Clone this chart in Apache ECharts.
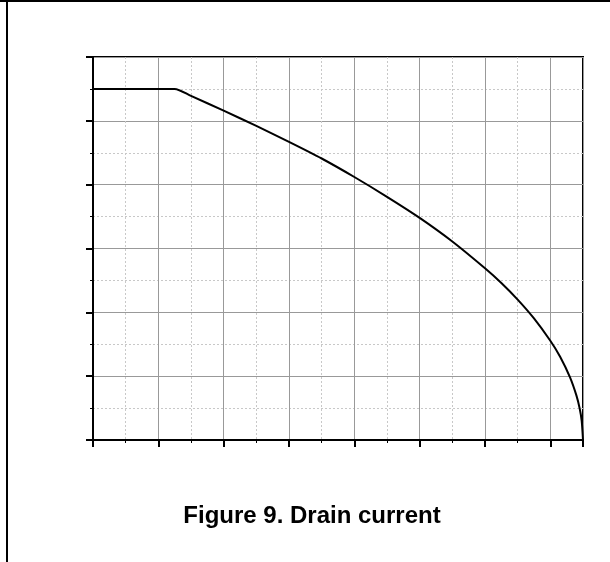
<!DOCTYPE html>
<html>
<head>
<meta charset="utf-8">
<script src="https://cdn.jsdelivr.net/npm/echarts@6/dist/echarts.min.js"></script>
<style>html,body{margin:0;padding:0;background:#fff;}#c{width:610px;height:562px;}</style>
</head>
<body>
<div id="c"></div>
<script>
// Case temperature (°C) vs drain current (A)
const temperature = [0, 25, 30, 40, 50, 60, 70, 80, 90, 100, 110, 120, 125, 130, 135, 140, 143, 146, 148, 149, 149.6, 150];
const drainCurrent = [11, 11, 10.78, 10.32, 9.84, 9.34, 8.82, 8.24, 7.62, 6.96, 6.22, 5.38, 4.92, 4.40, 3.81, 3.11, 2.61, 1.97, 1.39, 0.98, 0.6, 0];
const titleText = 'Figure 9. Drain current';

const chart = echarts.init(document.getElementById('c'), null, {renderer: 'canvas'});
const pts = temperature.map((t, i) => [t, drainCurrent[i]]);

chart.setOption({
  animation: false,
  backgroundColor: '#fff',
  title: {
    text: titleText,
    left: 307, top: 499, textAlign: 'center',
    textStyle: {fontFamily: 'Liberation Sans, Arial, sans-serif', fontWeight: 'bold', fontSize: 24, color: '#000'}
  },
  grid: {left: 93, right: 27, top: 57, bottom: 122, show: true, borderColor: '#000', borderWidth: 2, backgroundColor: 'transparent'},
  xAxis: {
    type: 'value', min: 0, max: 150, interval: 20,
    axisLabel: {show: false},
    axisLine: {show: true, lineStyle: {color: '#000', width: 2}},
    axisTick: {show: true, length: 7, lineStyle: {color: '#000', width: 2}},
    minorTick: {show: true, splitNumber: 2, length: 3, lineStyle: {color: '#000', width: 1}},
    splitLine: {show: true, lineStyle: {color: '#999', width: 1}},
    minorSplitLine: {show: true, lineStyle: {color: '#c8c8c8', width: 1, type: [2, 2]}}
  },
  yAxis: {
    type: 'value', min: 0, max: 12, interval: 2,
    axisLabel: {show: false},
    axisLine: {show: true, lineStyle: {color: '#000', width: 2}},
    axisTick: {show: true, length: 7, lineStyle: {color: '#000', width: 2}},
    minorTick: {show: true, splitNumber: 2, length: 3, lineStyle: {color: '#000', width: 1}},
    splitLine: {show: true, lineStyle: {color: '#999', width: 1}},
    minorSplitLine: {show: true, lineStyle: {color: '#c8c8c8', width: 1, type: [2, 2]}}
  },
  series: [{
    type: 'line', data: pts, smooth: 0.25, symbol: 'none',
    lineStyle: {color: '#000', width: 2}
  }],
  graphic: [
    {type: 'line', shape: {x1: 0, y1: 1, x2: 610, y2: 1}, style: {stroke: '#000', lineWidth: 2}},
    {type: 'line', shape: {x1: 7, y1: 0, x2: 7, y2: 562}, style: {stroke: '#000', lineWidth: 2}}
  ]
});
</script>
</body>
</html>
